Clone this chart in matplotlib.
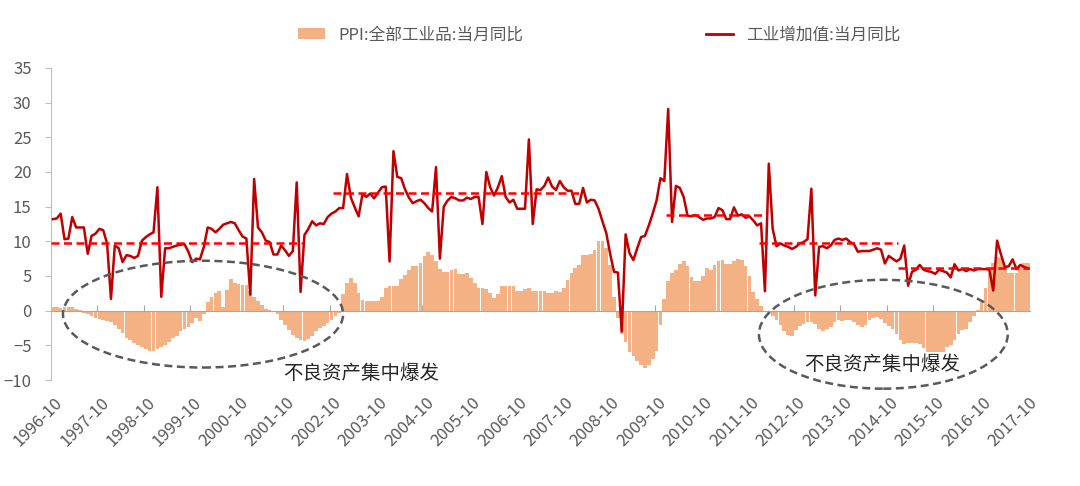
import numpy as np
import pandas as pd
import matplotlib
matplotlib.use("Agg")
import matplotlib.pyplot as plt
import matplotlib.transforms as mtransforms
from matplotlib.patches import Ellipse, Patch
from matplotlib.lines import Line2D

plt.rcParams['font.family'] = ['Noto Sans CJK SC', 'DejaVu Sans']

# monthly data, 1996-10 .. 2017-10
months = pd.period_range("1996-10", "2017-10", freq="M")
month_labels = list(months.strftime("%Y-%m"))

# PPI:全部工业品:当月同比 (%)
ppi = [
    0.5, 0.5, 0.4,
    0.5, 0.6, 0.5, 0.3, 0.1, -0.3, -0.5, -0.8, -1.0, -1.2, -1.4, -1.5,
    -1.6, -2.0, -2.7, -3.2, -3.9, -4.3, -4.6, -5.0, -5.2, -5.6, -5.8, -5.8,
    -5.6, -5.3, -5.0, -4.5, -4.0, -3.6, -3.0, -2.7, -2.4, -1.8, -1.1, -1.5,
    -0.5, 1.2, 1.9, 2.6, 2.8, 0.6, 3.0, 4.6, 4.0, 3.8, 3.7, 3.7,
    2.8, 2.0, 1.4, 0.8, 0.3, 0.1, -0.2, -0.5, -1.3, -2.0, -2.8, -3.5,
    -4.0, -4.3, -4.4, -4.1, -3.6, -3.0, -2.5, -2.2, -1.8, -1.3, -0.8, -0.4,
    2.4, 4.0, 4.7, 4.0, 2.5, 1.5, 1.4, 1.4, 1.4, 1.4, 2.0, 3.2,
    3.5, 3.6, 3.6, 4.5, 5.1, 5.9, 6.4, 6.4, 6.9, 7.9, 8.4, 8.1,
    7.2, 6.0, 5.6, 5.6, 5.9, 6.0, 5.3, 5.3, 5.4, 4.7, 4.0, 3.2,
    3.2, 3.1, 2.6, 1.8, 2.4, 3.6, 3.6, 3.6, 3.5, 2.9, 2.8, 3.1,
    3.2, 2.8, 2.9, 2.9, 2.8, 2.6, 2.5, 2.8, 2.7, 3.2, 4.4, 5.4,
    6.1, 6.6, 8.0, 8.1, 8.2, 8.8, 10.0, 10.1, 9.1, 6.6, 2.0, -1.1,
    -3.3, -4.5, -6.0, -6.6, -7.2, -7.8, -8.2, -7.9, -7.0, -5.8, -2.1, 1.7,
    4.3, 5.4, 5.9, 6.8, 7.1, 6.4, 4.8, 4.3, 4.3, 5.0, 6.1, 5.9,
    6.6, 7.2, 7.3, 6.8, 6.8, 7.1, 7.5, 7.3, 6.5, 5.0, 2.7, 1.7,
    0.7, 0.0, -0.3, -0.7, -1.4, -2.1, -2.9, -3.5, -3.6, -2.8, -2.2, -1.9,
    -1.6, -1.6, -1.9, -2.6, -2.9, -2.7, -2.3, -1.6, -1.3, -1.5, -1.4, -1.4,
    -1.6, -2.0, -2.3, -2.0, -1.4, -1.1, -0.9, -1.2, -1.8, -2.2, -2.7, -3.3,
    -4.3, -4.8, -4.6, -4.6, -4.6, -4.8, -5.4, -5.9, -5.9, -5.9, -5.9, -5.9,
    -5.3, -4.9, -4.3, -3.4, -2.8, -2.6, -1.7, -0.8, 0.1, 1.2, 3.3, 5.5,
    6.9, 7.8, 7.6, 6.4, 5.5, 5.5, 5.5, 6.3, 6.9, 6.9,
]

# 工业增加值:当月同比 (%)
iva = [
    13.2, 13.3, 14.0, 10.3, 10.4, 13.5, 12.0, 12.0, 12.0, 8.2, 10.8, 11.1,
    11.8, 11.6, 9.7, 1.7, 9.4, 9.0, 7.0, 8.0, 7.9, 7.6, 7.9, 10.1,
    10.6, 11.0, 11.3, 17.8, 2.0, 9.0, 9.0, 9.2, 9.4, 9.5, 9.6, 8.5,
    7.0, 7.5, 7.4, 9.2, 12.0, 11.8, 11.3, 11.8, 12.4,
    12.6, 12.8, 12.6, 11.6, 10.7, 10.4, 2.3, 19.0, 12.0, 11.3, 10.1, 9.9,
    8.1, 8.1, 9.4, 8.7, 7.9, 8.6, 18.5, 2.7, 10.9, 11.8, 12.9, 12.3,
    12.6, 12.5, 13.5, 14.0, 14.3, 14.8, 14.8, 19.7, 16.3, 14.9, 13.6, 16.8,
    16.4, 16.9, 16.2, 17.0, 17.8, 17.9, 7.1, 23.0,
    19.3, 19.1, 17.5, 16.3, 15.5, 15.8, 16.0, 15.5, 14.8, 14.3, 20.7, 7.5,
    15.0, 15.9, 16.4, 16.2, 15.9, 15.9, 16.3, 16.1, 16.4, 16.4, 12.5, 20.0,
    17.8, 16.6, 17.8, 19.4, 16.4, 15.6, 16.0, 14.7, 14.7, 14.7, 24.7, 12.5,
    17.5, 17.4, 18.0, 19.2, 17.9, 17.4, 18.7, 17.8, 17.3, 17.3,
    15.4, 15.4, 17.7, 15.6, 16.0, 15.9, 14.7, 12.9, 11.2, 8.2, 5.6, 5.5,
    -3.0, 11.0, 8.3, 7.3, 9.0, 10.6, 10.8, 12.3, 14.0, 15.9, 19.1, 18.7,
    29.1, 12.8, 18.0, 17.7, 16.4, 13.7, 13.6, 13.8, 13.5, 13.1, 13.3, 13.3,
    13.5, 14.8, 14.5, 13.2, 13.2, 14.9, 13.7, 13.9, 13.4,
    13.6, 13.0, 12.3, 12.6, 2.8, 21.2, 11.8, 9.3, 9.7, 9.4, 9.2, 8.9,
    9.2, 9.7, 9.9, 10.3, 17.6, 2.2, 9.2, 9.3, 9.0, 9.4, 10.2, 10.4,
    10.2, 10.4, 9.9, 9.6, 8.5, 8.6, 8.6, 8.6, 8.8, 9.0, 8.8, 6.8,
    7.9, 7.5, 7.1, 7.5, 9.4, 3.6, 5.6, 5.9, 6.6, 5.9,
    5.7, 5.6, 5.3, 5.9, 5.7, 5.5, 4.8, 6.7, 5.8, 6.0, 5.7, 6.0,
    5.8, 6.0, 6.0, 6.0, 5.9, 2.9, 10.1, 8.1, 6.3, 6.4, 7.4, 6.0,
    6.6, 6.3, 6.1,
]

assert len(ppi) == len(months) and len(iva) == len(months)

# period averages of industrial value added (dashed lines)
avg_start = ["1996-10", "2002-11", "2010-01", "2012-01", "2015-01"]
avg_end = ["2002-02", "2008-02", "2012-02", "2014-12", "2017-10"]
avg_value = [9.8, 16.9, 13.8, 9.7, 6.1]

note_text = "不良资产集中爆发"
series_names = ["PPI:全部工业品:当月同比", "工业增加值:当月同比"]

bar_color = "#F4B183"
line_color = "#C00000"
grey = "#595959"

fig = plt.figure(figsize=(10.8, 4.86), dpi=100)
ax = fig.add_axes([0.0472, 0.2181, 0.9065, 0.642])

x = np.arange(len(months))
ax.bar(x, ppi, width=0.95, color=bar_color, linewidth=0, zorder=2)
ax.plot(x, iva, color=line_color, lw=1.8, zorder=4)

for s, e, v in zip(avg_start, avg_end, avg_value):
    ax.hlines(v, month_labels.index(s) - 0.5, month_labels.index(e) + 0.5,
              colors="#FF0000", linestyles=(0, (3.2, 1.8)), lw=1.8, zorder=5)

# ellipses around the two bad-debt periods
for cx, cy, w, h in [(38.8, -0.5, 72.4, 15.4), (214.6, -3.4, 64.3, 15.7)]:
    ax.add_patch(Ellipse((cx, cy), w, h, fill=False, ec=grey, lw=1.8,
                         ls=(0, (3.2, 1.8)), clip_on=False, zorder=6))
ax.text(79.6, -9.0, note_text, ha="center", va="center", fontsize=14,
        color="#262626", zorder=7)
ax.text(214.2, -7.7, note_text, ha="center", va="center", fontsize=14,
        color="#262626", zorder=7)

ax.set_xlim(-0.5, len(months) - 0.5)
ax.set_ylim(-10, 35)
ax.set_yticks(range(-10, 40, 5))

ax.spines["top"].set_visible(False)
ax.spines["right"].set_visible(False)
ax.spines["left"].set_color("#BFBFBF")
ax.spines["bottom"].set_position(("data", 0))
ax.spines["bottom"].set_color("#A6A6A6")
ax.spines["bottom"].set_zorder(3)

ax.tick_params(axis="y", colors="#BFBFBF", labelcolor=grey, labelsize=12,
               length=4, pad=10)
ax.set_xticks(x[::12] - 0.5)
ax.set_xticklabels(month_labels[::12])
ax.tick_params(axis="x", direction="in", length=4, color="#A6A6A6",
               labelcolor=grey, labelsize=12, pad=60)
shift = mtransforms.ScaledTranslation(0.03, 0, fig.dpi_scale_trans)
for lbl in ax.get_xticklabels():
    lbl.set_rotation(45)
    lbl.set_ha("right")
    lbl.set_va("top")
    lbl.set_rotation_mode("anchor")
    lbl.set_transform(lbl.get_transform() + shift)

handles = [Patch(facecolor=bar_color, edgecolor="none"),
           Line2D([0], [0], color=line_color, lw=2)]
fig.legend(handles, series_names, loc="center", bbox_to_anchor=(0.555, 0.928),
           ncol=2, frameon=False, fontsize=12, columnspacing=11,
           handlelength=1.6, labelcolor=grey)

fig.savefig("out.png", dpi=100)
